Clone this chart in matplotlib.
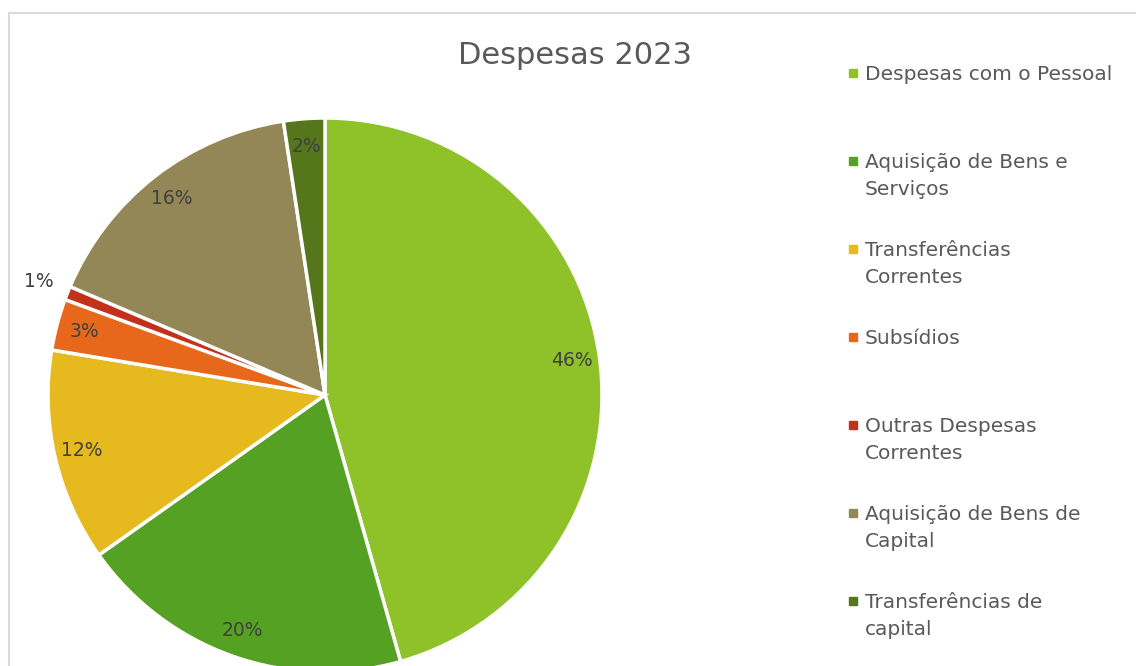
import matplotlib.pyplot as plt
from matplotlib.patches import Rectangle

plt.rcParams["font.family"] = ["DejaVu Sans"]

categories = [
    "Despesas com o Pessoal",
    "Aquisição de Bens e\nServiços",
    "Transferências\nCorrentes",
    "Subsídios",
    "Outras Despesas\nCorrentes",
    "Aquisição de Bens de\nCapital",
    "Transferências de\ncapital",
]
values = [45.6, 19.6, 12.4, 3.0, 0.8, 16.2, 2.4]
colors = ["#8fc129", "#55a123", "#e6b91f", "#e8681b", "#c4311b", "#938657", "#56761c"]

W, H = 1136, 666
fig = plt.figure(figsize=(W / 100, H / 100), dpi=100)

# pie centre (325, 395) px, radius 277 px
cx, cy, r = 325, 395, 277
ax = fig.add_axes([(cx - r) / W, (H - cy - r) / H, 2 * r / W, 2 * r / H])
wedges, texts, autotexts = ax.pie(
    values, colors=colors, startangle=90, counterclock=False,
    autopct="%.0f%%", pctdistance=0.9, radius=1,
    wedgeprops=dict(edgecolor="white", linewidth=2.5),
    textprops=dict(color="#404040", fontsize=13.5),
)
ax.set_xlim(-1, 1)
ax.set_ylim(-1, 1)
ax.set_aspect("auto")

# small slice label sits outside the pie
x, y = autotexts[4].get_position()
autotexts[4].set_position((x * 1.11 / 0.9, y * 1.11 / 0.9))

# chart frame
fig.patches.append(Rectangle((9 / W, -0.1), 1.2, (H - 13) / H + 0.1,
                             transform=fig.transFigure, fill=False,
                             edgecolor="#d9d9d9", linewidth=1.5))

fig.text(575 / W, 1 - 55 / H, "Despesas 2023", ha="center", va="center",
         fontsize=22, color="#595959")

# legend
for i, (lab, c) in enumerate(zip(categories, colors)):
    yy = 73 + 88 * i
    fig.patches.append(Rectangle((849 / W, 1 - (yy + 4) / H), 8 / W, 8 / H,
                                 transform=fig.transFigure, color=c))
    fig.text(865 / W, 1 - (yy - 8) / H, lab, ha="left", va="top",
             fontsize=14.5, color="#595959", linespacing=1.55)

plt.savefig("out.png", dpi=100)
